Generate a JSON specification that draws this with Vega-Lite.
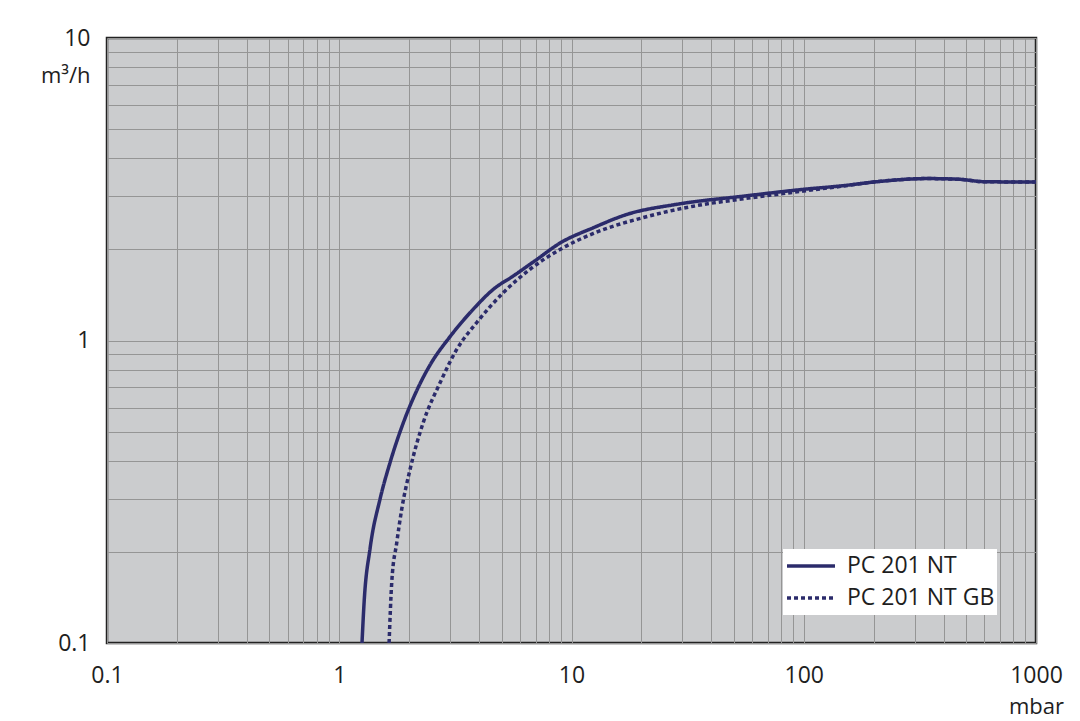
{
  "$schema": "https://vega.github.io/schema/vega-lite/v6.json",
  "width": 929,
  "height": 605,
  "autosize": "none",
  "padding": {"left": 107, "top": 38, "right": 44, "bottom": 78},
  "background": "white",
  "config": {
    "font": "Open Sans",
    "view": {"fill": "#cbccce", "stroke": "#222222", "strokeWidth": 2.5},
    "axis": {
      "labelFont": "Open Sans",
      "labelFontSize": 23,
      "labelColor": "#1e1e1e",
      "titleFont": "Open Sans",
      "titleFontSize": 22,
      "titleFontWeight": "normal",
      "titleColor": "#1e1e1e",
      "domain": false,
      "ticks": false,
      "grid": true,
      "gridColor": "#959595",
      "gridOpacity": 1,
      "gridWidth": 1,
      "labelOverlap": false,
      "labelFlush": false
    }
  },
  "data": {
    "values": [
      {"p": 1.253, "s": 0.1, "series": "PC 201 NT"},
      {"p": 1.28, "s": 0.137, "series": "PC 201 NT"},
      {"p": 1.357, "s": 0.205, "series": "PC 201 NT"},
      {"p": 1.5, "s": 0.3, "series": "PC 201 NT"},
      {"p": 1.655, "s": 0.395, "series": "PC 201 NT"},
      {"p": 1.89, "s": 0.536, "series": "PC 201 NT"},
      {"p": 2.15, "s": 0.68, "series": "PC 201 NT"},
      {"p": 2.46, "s": 0.83, "series": "PC 201 NT"},
      {"p": 3.0, "s": 1.03, "series": "PC 201 NT"},
      {"p": 3.78, "s": 1.27, "series": "PC 201 NT"},
      {"p": 4.61, "s": 1.477, "series": "PC 201 NT"},
      {"p": 5.62, "s": 1.635, "series": "PC 201 NT"},
      {"p": 7.0, "s": 1.84, "series": "PC 201 NT"},
      {"p": 8.93, "s": 2.1, "series": "PC 201 NT"},
      {"p": 12.43, "s": 2.36, "series": "PC 201 NT"},
      {"p": 17.3, "s": 2.61, "series": "PC 201 NT"},
      {"p": 28.4, "s": 2.82, "series": "PC 201 NT"},
      {"p": 54.9, "s": 3.0, "series": "PC 201 NT"},
      {"p": 99.7, "s": 3.16, "series": "PC 201 NT"},
      {"p": 148, "s": 3.25, "series": "PC 201 NT"},
      {"p": 199.5, "s": 3.34, "series": "PC 201 NT"},
      {"p": 339, "s": 3.43, "series": "PC 201 NT"},
      {"p": 472, "s": 3.41, "series": "PC 201 NT"},
      {"p": 594, "s": 3.35, "series": "PC 201 NT"},
      {"p": 1000, "s": 3.34, "series": "PC 201 NT"},
      {"p": 1.639, "s": 0.1, "series": "PC 201 NT GB"},
      {"p": 1.683, "s": 0.159, "series": "PC 201 NT GB"},
      {"p": 1.769, "s": 0.215, "series": "PC 201 NT GB"},
      {"p": 1.858, "s": 0.277, "series": "PC 201 NT GB"},
      {"p": 2.02, "s": 0.376, "series": "PC 201 NT GB"},
      {"p": 2.3, "s": 0.536, "series": "PC 201 NT GB"},
      {"p": 2.72, "s": 0.726, "series": "PC 201 NT GB"},
      {"p": 3.21, "s": 0.936, "series": "PC 201 NT GB"},
      {"p": 3.91, "s": 1.147, "series": "PC 201 NT GB"},
      {"p": 5.09, "s": 1.44, "series": "PC 201 NT GB"},
      {"p": 6.63, "s": 1.72, "series": "PC 201 NT GB"},
      {"p": 8.93, "s": 2.0, "series": "PC 201 NT GB"},
      {"p": 12.43, "s": 2.26, "series": "PC 201 NT GB"},
      {"p": 20.4, "s": 2.55, "series": "PC 201 NT GB"},
      {"p": 33.5, "s": 2.78, "series": "PC 201 NT GB"},
      {"p": 54.9, "s": 2.94, "series": "PC 201 NT GB"},
      {"p": 99.7, "s": 3.12, "series": "PC 201 NT GB"},
      {"p": 148, "s": 3.24, "series": "PC 201 NT GB"},
      {"p": 199.5, "s": 3.34, "series": "PC 201 NT GB"},
      {"p": 339, "s": 3.43, "series": "PC 201 NT GB"},
      {"p": 472, "s": 3.41, "series": "PC 201 NT GB"},
      {"p": 594, "s": 3.35, "series": "PC 201 NT GB"},
      {"p": 1000, "s": 3.34, "series": "PC 201 NT GB"}
    ]
  },
  "mark": {"type": "line", "color": "#2b2b6b", "strokeWidth": 3.5, "clip": true, "interpolate": "monotone"},
  "encoding": {
    "x": {
      "field": "p",
      "type": "quantitative",
      "scale": {"type": "log", "domain": [0.1, 1000], "nice": false},
      "axis": {
        "title": "mbar",
        "titleX": 929,
        "titleY": 70,
        "titleAlign": "center",
        "titleBaseline": "alphabetic",
        "labelPadding": 21,
        "format": "~g",
        "values": [0.1, 0.2, 0.3, 0.4, 0.5, 0.6, 0.7, 0.8, 0.9, 1, 2, 3, 4, 5, 6, 7, 8, 9, 10, 20, 30, 40, 50, 60, 70, 80, 90, 100, 200, 300, 400, 500, 600, 700, 800, 900, 1000],
        "labelExpr": "indexof(['0.1', '1', '10', '100', '1000'], datum.label) >= 0 ? datum.label : ''"
      }
    },
    "y": {
      "field": "s",
      "type": "quantitative",
      "scale": {"type": "log", "domain": [0.1, 10], "nice": false},
      "axis": {
        "title": "m³/h",
        "titleAngle": 0,
        "titleAlign": "right",
        "titleBaseline": "alphabetic",
        "titleX": -17,
        "titleY": 44,
        "labelPadding": 17,
        "format": "~g",
        "values": [0.1, 0.2, 0.3, 0.4, 0.5, 0.6, 0.7, 0.8, 0.9, 1, 2, 3, 4, 5, 6, 7, 8, 9, 10],
        "labelExpr": "indexof(['0.1', '1', '10'], datum.label) >= 0 ? datum.label : ''"
      }
    },
    "strokeDash": {
      "field": "series",
      "type": "nominal",
      "scale": {"domain": ["PC 201 NT", "PC 201 NT GB"], "range": [[1, 0], [4, 3]]},
      "legend": {
        "title": null,
        "orient": "none",
        "legendX": 676,
        "legendY": 511,
        "fillColor": "white",
        "padding": 2,
        "clipHeight": 30,
        "symbolType": "stroke",
        "symbolSize": 2300,
        "symbolStrokeWidth": 3.5,
        "symbolStrokeColor": "#2b2b6b",
        "labelFont": "Open Sans",
        "labelFontSize": 23,
        "labelColor": "#1e1e1e",
        "labelOffset": 10,
        "rowPadding": 2
      }
    }
  }
}
